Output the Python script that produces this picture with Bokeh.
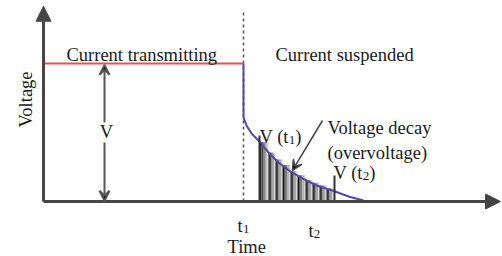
from bokeh.plotting import figure
from bokeh.models import Range1d, Arrow, VeeHead, NormalHead, Label
from bokeh.embed import file_html
from bokeh.resources import INLINE

# ---- data (time units / voltage units) ----
t1 = 20.0
t2 = 27.0
v_on = 10.0
on_t = [0.0, 20.0]
on_v = [10.0, 10.0]
drop_t = [20.0, 20.0]
drop_v = [10.0, 6.09]
decay_t = [20.0, 20.3, 20.8, 21.6, 22.5, 23.5, 24.7, 25.9, 27.3, 28.9, 30.5, 32.0]
decay_v = [6.09, 5.51, 4.93, 4.35, 3.55, 2.83, 2.17, 1.67, 1.16, 0.80, 0.36, 0.07]
bar_left = [21.6, 22.5, 23.2, 23.9, 24.7, 25.4, 26.2, 26.9, 27.6, 28.3]
bar_right = [22.5, 23.2, 23.9, 24.7, 25.4, 26.2, 26.9, 27.6, 28.3, 29.0]
bar_top = [4.3, 3.55, 3.05, 2.65, 2.2, 1.9, 1.55, 1.35, 1.15, 0.95]
vt1_t, vt1_v = 21.6, 4.78
vt2_t, vt2_v = 29.1, 1.88

FONT = "Liberation Serif"
FS = "18.5px"
SUBFS = "13px"
TXT = "#1a1a1a"
AX = "#454545"

p = figure(width=502, height=256, output_backend="svg", toolbar_location=None,
           x_range=Range1d(-4.3, 45.9), y_range=Range1d(-3.986, 14.565),
           x_axis_type=None, y_axis_type=None, min_border=0,
           outline_line_color=None, background_fill_color="white",
           border_fill_color="white")
p.grid.visible = False

# gradient stripes
shades = ["#1c1c1c", "#4a4a4a", "#7a7a7a", "#a8a8a8", "#d2d2d2"]
for l, r, h in zip(bar_left, bar_right, bar_top):
    w = (r - l) / len(shades)
    for k, c in enumerate(shades):
        p.quad(left=l + k * w, right=l + (k + 1) * w, bottom=0, top=h,
               fill_color=c, line_color=None)

# t1 dashed line
p.line([t1, t1], [0, 13.7], line_color="#555555", line_width=1.5, line_dash="3 3")

# red current line
p.line(on_t, on_v, line_color="#e0554f", line_width=2)
# purple decay
p.line(drop_t, drop_v, line_color="#5a45a8", line_width=2)
p.line(decay_t, decay_v, line_color="#5a45a8", line_width=2)

# V(t1), V(t2) markers
p.line([vt1_t, vt1_t], [0, vt1_v], line_color="#333333", line_width=2)
p.line([vt2_t, vt2_t], [0, vt2_v], line_color="#333333", line_width=2)

# axes
p.add_layout(Arrow(end=NormalHead(size=15, fill_color=AX, line_color=AX),
                   x_start=0, y_start=0, x_end=0, y_end=14.15,
                   line_color=AX, line_width=3))
p.add_layout(Arrow(end=NormalHead(size=15, fill_color=AX, line_color=AX),
                   x_start=0, y_start=0, x_end=45.7, y_end=0,
                   line_color=AX, line_width=3))

# double arrow V
p.add_layout(Arrow(start=VeeHead(size=10, line_color="#555555", line_width=2),
                   end=VeeHead(size=10, line_color="#555555", line_width=2),
                   x_start=6.1, y_start=0.05, x_end=6.1, y_end=9.9,
                   line_color="#555555", line_width=2))
# decay arrow
p.add_layout(Arrow(end=VeeHead(size=10, line_color="#444444", line_width=1.5),
                   x_start=27.9, y_start=5.87, x_end=24.9, y_end=2.25,
                   line_color="#444444", line_width=1.5))


def lab(x, y, text, size=FS, align="left", baseline="alphabetic", angle=0,
        xo=0, yo=0, bg=None):
    p.add_layout(Label(x=x, y=y, text=text, x_offset=xo, y_offset=yo,
                       text_font=FONT, text_font_size=size, text_color=TXT,
                       text_align=align, text_baseline=baseline, angle=angle,
                       angle_units="deg", background_fill_color=bg))


lab(2.3, 10.65, "Current transmitting")
lab(23.2, 10.65, "Current suspended")
lab(-1.8, 7.39, "Voltage", align="center", baseline="middle", angle=90)
lab(6.3, 5.0, "V", align="center", baseline="middle", bg="white")
lab(28.4, 5.36, "Voltage decay")
lab(28.4, 3.55, "(overvoltage)")

# V (t1)
lab(vt1_t, 4.7, "V (t")
lab(vt1_t, 4.7, "1", size=SUBFS, xo=29.3, yo=-3)
lab(vt1_t, 4.7, ")", xo=35.8)
# V (t2)
lab(29.0, 2.1, "V (t")
lab(29.0, 2.1, "2", size=SUBFS, xo=29.3, yo=-3)
lab(29.0, 2.1, ")", xo=35.8)
# t1, t2 ticks
lab(t1, -1.81, "t", xo=-6)
lab(t1, -1.81, "1", size=SUBFS, xo=-0.5, yo=-3)
lab(26.5, -2.17, "t")
lab(26.5, -2.17, "2", size=SUBFS, xo=5.3, yo=-3)
lab(18.4, -3.33, "Time")

open("out.html", "w").write(file_html(p, INLINE))
